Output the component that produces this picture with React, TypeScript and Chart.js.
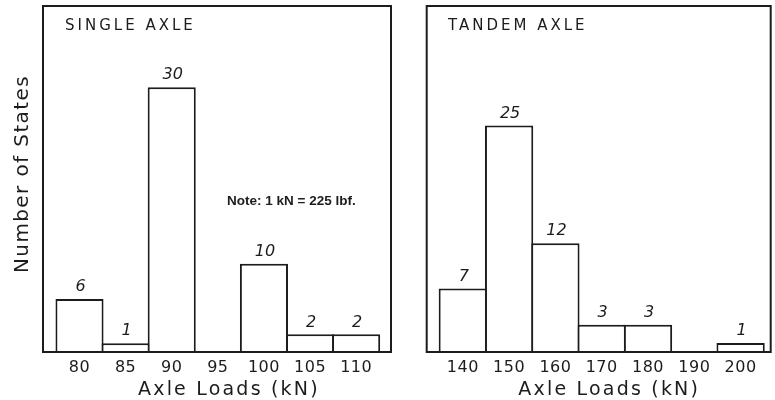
import React, { useEffect, useRef } from 'react';
import { Chart, registerables } from 'chart.js';

Chart.register(...registerables);

// ---- data ----
const singleLoads = [80, 85, 90, 95, 100, 105, 110];
const singleStates: (number | null)[] = [6, 1, 30, null, 10, 2, 2];
const tandemLoads = [140, 150, 160, 170, 180, 190, 200];
const tandemStates: (number | null)[] = [7, 25, 12, 3, 3, null, 1];

const singleTitle = 'SINGLE AXLE';
const tandemTitle = 'TANDEM AXLE';
const xAxisTitle = 'Axle Loads (kN)';
const yAxisTitle = 'Number of States';
const noteText = 'Note: 1 kN = 225 lbf.';

const INK = '#1c1c1c';
const FONT = '"DejaVu Sans", sans-serif';

type DecorOpts = {
  panelTitle: string;
  panelTitleX: number;
  xTitleX: number;
  showY: boolean;
  note: { x: number; y: number } | null;
};

const decorPlugin = {
  id: 'decor',
  beforeDraw(chart: any) {
    const ctx = chart.ctx;
    ctx.save();
    ctx.fillStyle = '#ffffff';
    ctx.fillRect(0, 0, chart.width, chart.height);
    ctx.restore();
    ctx.letterSpacing = '0.5px';
  },
  afterDraw(chart: any, _args: any, opts: DecorOpts) {
    const ctx = chart.ctx;
    ctx.letterSpacing = '0px';
    const { left, right, top, bottom } = chart.chartArea;
    ctx.save();
    ctx.strokeStyle = INK;
    ctx.lineWidth = 2;
    ctx.strokeRect(left, top, right - left, bottom - top);

    // value labels above bars
    ctx.fillStyle = INK;
    ctx.font = `italic 16px ${FONT}`;
    ctx.textAlign = 'center';
    ctx.textBaseline = 'middle';
    const meta = chart.getDatasetMeta(0);
    const ds = chart.data.datasets[0].data;
    meta.data.forEach((bar: any, i: number) => {
      const v = ds[i].y;
      if (v == null || !isFinite(bar.y)) return;
      ctx.fillText(String(v), bar.x + 1, bar.y - 12);
    });

    // panel title
    ctx.font = `15px ${FONT}`;
    ctx.letterSpacing = '3px';
    ctx.textAlign = 'left';
    ctx.textBaseline = 'alphabetic';
    ctx.fillText(opts.panelTitle, opts.panelTitleX, 29.5);

    // x axis title
    ctx.font = `19px ${FONT}`;
    ctx.letterSpacing = '2.2px';
    ctx.fillText(xAxisTitle, opts.xTitleX, 395);

    // y axis title
    if (opts.showY) {
      ctx.save();
      ctx.translate(27.5, 174);
      ctx.rotate(-Math.PI / 2);
      ctx.font = `20px ${FONT}`;
      ctx.letterSpacing = '1.4px';
      ctx.textAlign = 'center';
      ctx.fillText(yAxisTitle, 0, 0);
      ctx.restore();
    }

    if (opts.note) {
      ctx.font = 'bold 13.5px "Liberation Sans", Arial, sans-serif';
      ctx.letterSpacing = '0px';
      ctx.textAlign = 'left';
      ctx.textBaseline = 'middle';
      ctx.fillText(noteText, opts.note.x, opts.note.y);
    }
    ctx.restore();
    ctx.letterSpacing = '0px';
  },
};

type PanelProps = {
  loads: number[];
  states: (number | null)[];
  width: number;
  padLeft: number;
  padRight: number;
  xMin: number;
  xMax: number;
  yMax: number;
  decor: DecorOpts;
};

function Panel(p: PanelProps) {
  const ref = useRef<HTMLCanvasElement | null>(null);
  useEffect(() => {
    if (!ref.current) return;
    const chart = new Chart(ref.current, {
      type: 'bar',
      data: {
        datasets: [
          {
            data: p.loads.map((x, i) => ({ x, y: p.states[i] })) as any,
            backgroundColor: '#ffffff',
            borderColor: INK,
            borderWidth: 2,
            borderSkipped: 'start',
            barPercentage: 1.043,
            categoryPercentage: 1,
          },
        ],
      },
      options: {
        responsive: false,
        animation: false,
        devicePixelRatio: 1,
        layout: { padding: { left: p.padLeft, right: p.padRight, top: 6, bottom: 0 } },
        plugins: {
          legend: { display: false },
          tooltip: { enabled: false },
          decor: p.decor as any,
        } as any,
        scales: {
          x: {
            type: 'linear',
            min: p.xMin,
            max: p.xMax,
            offset: false,
            grid: { display: false, drawTicks: false },
            border: { display: false },
            afterBuildTicks: (s: any) => {
              s.ticks = p.loads.map((value) => ({ value }));
            },
            afterFit: (s: any) => {
              s.height = 48;
            },
            ticks: {
              autoSkip: false,
              maxRotation: 0,
              padding: 6,
              color: INK,
              font: { family: FONT, size: 16 },
              callback: (v: any) => String(v),
            },
          },
          y: {
            display: false,
            min: 0,
            max: p.yMax,
          },
        },
      },
      plugins: [decorPlugin as any],
    });
    return () => chart.destroy();
  }, []);
  return <canvas ref={ref} width={p.width} height={400} style={{ display: 'block', width: p.width, height: 400 }} />;
}

export default function App() {
  return (
    <div style={{ position: 'fixed', left: 0, top: 0, width: 775, height: 400, background: '#fff', display: 'flex' }}>
      <Panel
        loads={singleLoads}
        states={singleStates}
        width={400}
        padLeft={43}
        padRight={9}
        xMin={76.04}
        xMax={113.78}
        yMax={39.2}
        decor={{ panelTitle: singleTitle, panelTitleX: 65, xTitleX: 138, showY: true, note: { x: 227, y: 201.5 } }}
      />
      <Panel
        loads={tandemLoads}
        states={tandemStates}
        width={375}
        padLeft={26.7}
        padRight={4.3}
        xMin={132.2}
        xMax={206.5}
        yMax={38.2}
        decor={{ panelTitle: tandemTitle, panelTitleX: 48, xTitleX: 118.3, showY: false, note: null }}
      />
    </div>
  );
}
